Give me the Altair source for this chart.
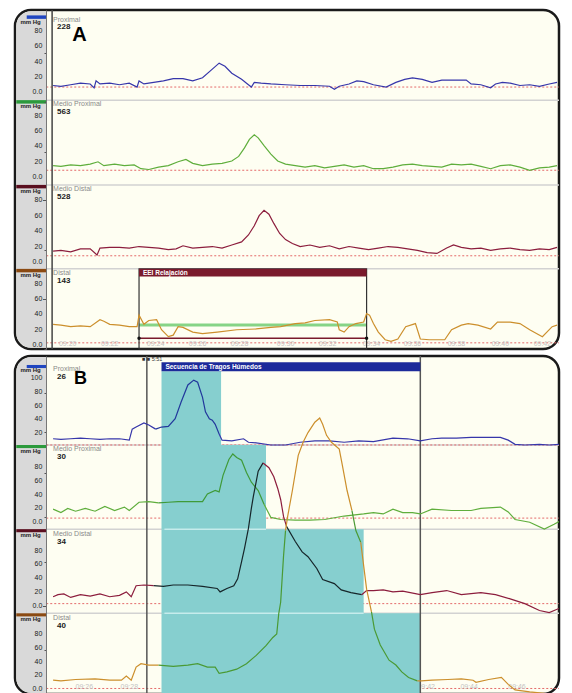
import altair as alt
import pandas as pd

# ---------------- data ----------------
TRACKS = ["Proximal", "Medio Proximal", "Medio Distal", "Distal"]
A_NUMBERS = ["228", "563", "528", "143"]
B_NUMBERS = ["26", "30", "34", "40"]
TICKS = [0, 20, 40, 60, 80]
B_TICKS_TOP = [20, 40, 60, 80, 100]

# Panel A (time index, mmHg)
A_PROX_T = [52, 60, 70, 80, 90, 94, 96, 100, 110, 120, 130, 138, 140, 145, 155, 165, 175, 185, 195, 205,
            213, 222, 228, 235, 245, 252, 255, 258, 265, 275, 290, 305, 320, 335, 340, 345, 355, 363, 370, 380,
            393, 403, 412, 420, 430, 440, 450, 460, 475, 480, 490, 500, 505, 512, 520, 530, 540, 550, 560, 568]
A_PROX_P = [9, 8, 10, 12, 11, 6, 15, 11, 12, 10, 12, 7, 15, 11, 13, 15, 18, 18, 15, 19,
            28, 38, 34, 25, 17, 10, 7, 13, 12, 11, 10, 9, 9, 8, 4, 8, 11, 15, 14, 10,
            7, 13, 17, 19, 17, 13, 16, 16, 16, 11, 10, 6, 11, 13, 12, 9, 10, 8, 11, 13]

A_MPROX_T = [52, 60, 70, 80, 90, 98, 104, 115, 125, 135, 142, 150, 160, 170, 180, 188, 195, 205, 215, 225,
             235, 242, 248, 253, 258, 262, 268, 275, 282, 290, 300, 310, 320, 330, 340, 350, 360, 370, 380, 390,
             400, 410, 420, 430, 440, 450, 460, 470, 480, 490, 500, 510, 520, 530, 540, 550, 560, 568]
A_MPROX_P = [15, 14, 16, 15, 17, 20, 15, 17, 15, 16, 11, 10, 13, 15, 20, 23, 18, 15, 17, 18,
             21, 27, 38, 49, 55, 51, 41, 30, 21, 17, 15, 13, 15, 12, 14, 16, 13, 15, 11, 11,
             13, 16, 17, 15, 14, 13, 17, 16, 17, 14, 11, 15, 16, 13, 9, 12, 13, 15]

A_MDIST_T = [52, 60, 70, 80, 90, 97, 100, 110, 120, 130, 140, 150, 160, 170, 178, 185, 195, 205, 215, 225,
             235, 245, 252, 258, 263, 268, 273, 278, 284, 290, 297, 305, 315, 325, 335, 345, 355, 365, 375, 385,
             395, 405, 415, 425, 435, 445, 455, 462, 470, 480, 490, 500, 510, 520, 530, 540, 550, 560, 568]
A_MDIST_P = [14, 15, 13, 17, 17, 9, 18, 19, 19, 18, 20, 19, 18, 16, 17, 21, 18, 19, 20, 18,
             22, 26, 35, 47, 60, 67, 62, 50, 37, 29, 24, 20, 22, 19, 21, 17, 20, 18, 16, 18,
             20, 19, 17, 15, 12, 11, 18, 22, 19, 17, 18, 15, 17, 18, 16, 15, 17, 16, 19]

A_DIST_T = [52, 60, 70, 80, 90, 100, 104, 110, 120, 130, 138, 140, 145, 150, 158, 163, 170, 175, 180, 185,
            195, 205, 220, 240, 260, 275, 285, 300, 310, 320, 335, 343, 345, 350, 355, 362, 370, 373, 376, 380,
            385, 392, 398, 405, 413, 423, 428, 437, 453, 460, 470, 477, 487, 500, 507, 520, 530, 540, 553, 563, 568]
A_DIST_P = [27, 26, 24, 25, 24, 33, 31, 27, 26, 24, 24, 39, 27, 32, 33, 20, 11, 13, 24, 23,
            17, 15, 17, 20, 21, 23, 24, 28, 29, 32, 33, 30, 20, 17, 24, 28, 30, 41, 39, 28,
            17, 7, 5, 8, 24, 28, 8, 7, 7, 20, 26, 28, 26, 21, 30, 30, 28, 20, 11, 24, 26]

# EEI relaxation window (panel A)
EEI_LABEL = "EEI Relajación"
EEI_START, EEI_END = 140, 373
EEI_BASAL = 26      # mmHg, green level
EEI_RESIDUAL = 9    # mmHg, dark red level

# Panel B (time index, mmHg)
B_PROX_T = [52, 60, 70, 80, 90, 100, 110, 120, 130, 133, 137, 145, 150, 157, 163, 170, 177, 183, 190, 196,
            200, 205, 208, 212, 215, 218, 222, 225, 235, 247, 252, 260, 275, 290, 305, 320, 335, 350, 365, 380,
            400, 415, 428, 440, 450, 465, 480, 495, 510, 518, 525, 535, 550, 560, 570]
B_PROX_P = [12, 11, 12, 13, 12, 11, 12, 12, 10, 26, 29, 35, 32, 26, 29, 30, 41, 65, 90, 97,
            94, 72, 51, 41, 39, 33, 19, 10, 9, 12, 7, 6, 3, 3, 7, 9, 9, 7, 9, 8,
            13, 12, 9, 12, 13, 13, 14, 14, 14, 10, 4, 3, 4, 3, 4]

B_MPROX_T = [52, 60, 67, 75, 85, 95, 105, 115, 125, 130, 140, 150, 160, 170, 180, 195, 205, 210, 218, 222,
             226, 232, 236, 240, 245, 250, 255, 262, 268, 275, 285, 300, 315, 330, 350, 370, 380, 390, 400, 410,
             420, 428, 440, 460, 480, 490, 510, 518, 525, 540, 555, 565, 570]
B_MPROX_P = [19, 14, 20, 16, 20, 16, 23, 17, 22, 17, 29, 30, 28, 29, 30, 30, 30, 41, 46, 44,
             68, 91, 99, 94, 90, 72, 58, 46, 26, 7, 4, 3, 3, 4, 9, 12, 14, 12, 19, 14,
             14, 12, 19, 17, 17, 20, 22, 15, 4, 0, -10, -3, 1]

B_MDIST_T = [52, 57, 63, 70, 80, 90, 100, 110, 120, 127, 132, 137, 145, 155, 165, 175, 190, 205, 220, 223,
             230, 237, 241, 245, 248, 252, 255, 257, 262, 267, 273, 278, 282, 285, 288, 291, 300, 307, 313, 322,
             328, 340, 347, 357, 368, 373, 380, 390, 400, 410, 428, 440, 455, 470, 490, 505, 520, 535, 550, 560, 570]
B_MDIST_P = [13, 16, 17, 12, 16, 14, 17, 13, 15, 20, 13, 29, 30, 29, 28, 30, 30, 28, 25, 20,
             25, 29, 39, 64, 83, 112, 141, 158, 195, 207, 200, 187, 170, 154, 129, 115, 93, 78, 71, 54,
             38, 32, 23, 19, 16, 22, 22, 23, 20, 21, 16, 19, 22, 16, 19, 16, 10, 3, -7, -10, -4]

B_DIST_T = [52, 60, 75, 95, 110, 122, 127, 132, 137, 142, 150, 160, 175, 190, 200, 210, 218, 222, 230, 240,
            250, 260, 270, 277, 281, 283, 285, 288, 290, 292, 297, 303, 308, 313, 320, 325, 328, 332, 337, 345,
            348, 353, 358, 362, 367, 373, 378, 381, 387, 396, 403, 409, 416, 425, 429, 440, 456, 470, 482, 485,
            498, 511, 518, 525, 540, 555, 564]
B_DIST_P = [13, 12, 14, 15, 13, 13, 19, 13, 32, 37, 35, 35, 33, 35, 37, 32, 32, 23, 25, 29,
            37, 49, 63, 75, 80, 109, 126, 194, 230, 249, 288, 339, 358, 372, 387, 393, 384, 368, 358, 348,
            326, 288, 259, 230, 213, 145, 112, 87, 64, 42, 35, 25, 17, 12, 12, 13, 14, 15, 13, 10,
            14, 17, 7, -1, -4, -6, -9]

SEQ_LABEL = "Secuencia de Tragos Húmedos"
SEQ_START, SEQ_END = 163, 428
SEQ_ROW_END = [224, 270, 370, 428]
B_CURSORS = [148, 428]
A_CURSORS = [51]

A_TIME_T = [67, 110, 157, 200, 243, 290, 333, 378, 420, 465, 510, 553]
A_TIME_L = ["09:20", "09:22", "09:24", "09:26", "09:28", "09:30", "09:32", "09:34", "09:36", "09:38", "09:40", "09:42"]
B_TIME_T = [84, 130, 434, 478, 527]
B_TIME_L = ["09:26", "09:28", "09:42", "09:44", "09:46"]

# ---------------- layout / style ----------------
FONT = "Liberation Sans"
W, HA, HB = 544, 339, 338
T0, T1 = 13, 570
A_MAX, B_MAX = 440, 490
ZA = [333, 223, 113, 5]
SEPA = [323, 213, 104]
TOPA = [433, 323, 213, 104]
DASHA = [7, 9, 8, 3]
ZB = [358, 249, 128, 7]
SEPB = [361, 239, 117]
TOPB = [477, 361, 239, 117]
DASHB = [3, 6, 3, 1]

LINE_OUT = ["#3636aa", "#5fae3c", "#8c1d3d", "#cc8f2c"]
LINE_IN = ["#22389c", "#3f9a38", "#16262a", "#4a9a34"]
BAR_COLORS = ["#1f45c0", "#2c9a3c", "#5a0f1f", "#8b4a12"]
AXIS_X = 45

xs = alt.Scale(domain=[T0, T1], nice=False, zero=False)


def yscale(m):
    return alt.Scale(domain=[0, m], nice=False, zero=False)


def curve_rows(ts, ps, z, k, prefix, inside=None):
    rows, seg, prev_in, prev = [], 0, None, None
    for i, (t, p) in enumerate(zip(ts, ps)):
        v = z + p
        inn = inside(t, v) if inside else False
        col = LINE_IN[k] if inn else LINE_OUT[k]
        if prev_in is not None and inn != prev_in:
            seg += 1
            rows.append(dict(t=prev[0], v=prev[1], seg=f"{prefix}{seg}", color=col, i=i - 0.5))
        rows.append(dict(t=t, v=v, seg=f"{prefix}{seg}", color=col, i=i))
        prev_in, prev = inn, (t, v)
    return rows


def inside_b(t, v):
    if t < SEQ_START or v > 468:
        return False
    row = 0 if v >= SEPB[0] else 1 if v >= SEPB[1] else 2 if v >= SEPB[2] else 3
    return t <= SEQ_ROW_END[row]


def common_layers(ys, ymax, z, seps, tops, dash, names, numbers, ticks_list, name_off, num_off):
    majors, labels = [], []
    for k in range(4):
        for tv in ticks_list[k]:
            majors.append(z[k] + tv)
            labels.append("0.0" if tv == 0 else str(tv))
    minors = [m for m in range(0, ymax + 1, 4) if all(abs(m - a) > 1 for a in majors)]
    all_vals = sorted(majors + minors)
    major_test = f"indexof({majors}, datum.value) >= 0"
    strip = alt.Chart(pd.DataFrame({"t1": [14.3], "t2": [AXIS_X], "v1": [1.6], "v2": [ymax - 1.6]})).mark_rect(
        fill="#d9d9d9", cornerRadiusTopLeft=15, cornerRadiusBottomLeft=15).encode(
        x=alt.X("t1:Q", scale=xs, axis=None), x2="t2",
        y=alt.Y("v1:Q", scale=ys, axis=alt.Axis(
            orient="left", offset=-round((AXIS_X - T0) * W / (T1 - T0)), values=all_vals, labels=False,
            tickSize={"condition": {"test": major_test, "value": 3.5}, "value": 2},
            tickColor="#555", domain=True, domainColor="#777", grid=False, title=None, zindex=3)),
        y2="v2")
    tick_lbl = alt.Chart(pd.DataFrame({"t": AXIS_X - 4, "v": majors, "s": labels})).mark_text(
        align="right", baseline="middle", fontSize=7, font=FONT, color="#222").encode(
        x=alt.X("t:Q", scale=xs), y=alt.Y("v:Q", scale=ys), text="s:N")
    bars = alt.Chart(pd.DataFrame({"t1": [25, 14.3, 14.3, 14.3], "t2": [AXIS_X] * 4,
                                   "v1": [t - 4.5 for t in tops], "v2": tops, "c": BAR_COLORS})).mark_rect().encode(
        x=alt.X("t1:Q", scale=xs), x2="t2",
        y=alt.Y("v1:Q", scale=ys), y2="v2", color=alt.Color("c:N", scale=None))
    mmhg = alt.Chart(pd.DataFrame({"t": [29] * 4, "v": [t - 8 for t in tops]})).mark_text(
        text="mm Hg", fontSize=6, fontWeight="bold", font=FONT, color="#222", baseline="middle").encode(
        x=alt.X("t:Q", scale=xs), y=alt.Y("v:Q", scale=ys))
    sep = alt.Chart(pd.DataFrame({"v": seps, "t1": AXIS_X, "t2": T1})).mark_rule(
        color="#d2d2d2", strokeWidth=1.5).encode(
        x=alt.X("t1:Q", scale=xs), x2="t2", y=alt.Y("v:Q", scale=ys))
    dashed = alt.Chart(pd.DataFrame({"v": [z[k] + dash[k] for k in range(4)], "t1": AXIS_X, "t2": T1})).mark_rule(
        color="#e46a6a", strokeWidth=1, strokeDash=[2, 2]).encode(
        x=alt.X("t1:Q", scale=xs), x2="t2", y=alt.Y("v:Q", scale=ys))
    name_txt = alt.Chart(pd.DataFrame({"t": [52] * 4, "v": [t - name_off for t in tops], "s": names})).mark_text(
        align="left", baseline="middle", fontSize=7, font=FONT, color="#8a8a8a").encode(
        x=alt.X("t:Q", scale=xs), y=alt.Y("v:Q", scale=ys), text="s:N")
    num_txt = alt.Chart(pd.DataFrame({"t": [56] * 4, "v": [t - num_off for t in tops], "s": numbers})).mark_text(
        align="left", baseline="middle", fontSize=8, font=FONT, fontWeight="bold", color="#222").encode(
        x=alt.X("t:Q", scale=xs), y=alt.Y("v:Q", scale=ys), text="s:N")
    return [strip, tick_lbl, bars, mmhg, sep, dashed], [name_txt, num_txt]


def line_layer(rows, ys):
    return alt.Chart(pd.DataFrame(rows)).mark_line(strokeWidth=1.2, clip=True).encode(
        x=alt.X("t:Q", scale=xs), y=alt.Y("v:Q", scale=ys),
        color=alt.Color("color:N", scale=None), detail="seg:N", order="i:Q")


def rule_v(ts, ys, ymax, color):
    return alt.Chart(pd.DataFrame({"t": ts, "v1": 0, "v2": ymax})).mark_rule(color=color, strokeWidth=1.5).encode(
        x=alt.X("t:Q", scale=xs), y=alt.Y("v1:Q", scale=ys), y2="v2")


def time_layer(ts, labels, v, ys):
    return alt.Chart(pd.DataFrame({"t": ts, "s": labels, "v": v})).mark_text(
        fontSize=7, font=FONT, color="#c4c4c4", baseline="middle").encode(
        x=alt.X("t:Q", scale=xs), y=alt.Y("v:Q", scale=ys), text="s:N")


# ---------------- Panel A ----------------
ysA = yscale(A_MAX)
baseA, textA = common_layers(ysA, A_MAX, ZA, SEPA, TOPA, DASHA, TRACKS, A_NUMBERS, [TICKS] * 4, 5.5, 15.5)

rowsA = []
for k, (ts, ps) in enumerate([(A_PROX_T, A_PROX_P), (A_MPROX_T, A_MPROX_P),
                              (A_MDIST_T, A_MDIST_P), (A_DIST_T, A_DIST_P)]):
    rowsA += curve_rows(ts, ps, ZA[k], k, f"A{k}_")

eei_box = alt.Chart(pd.DataFrame({"t1": [EEI_START], "t2": [EEI_END], "v1": [0], "v2": [SEPA[2]]})).mark_rect(
    fillOpacity=0, stroke="#333", strokeWidth=1.2).encode(
    x=alt.X("t1:Q", scale=xs), x2="t2", y=alt.Y("v1:Q", scale=ysA), y2="v2")
eei_head = alt.Chart(pd.DataFrame({"t1": [EEI_START], "t2": [EEI_END], "v1": [SEPA[2] - 10], "v2": [SEPA[2]]})).mark_rect(
    fill="#7a1a2c").encode(x=alt.X("t1:Q", scale=xs), x2="t2", y=alt.Y("v1:Q", scale=ysA), y2="v2")
eei_txt = alt.Chart(pd.DataFrame({"t": [EEI_START + 4], "v": [SEPA[2] - 5], "s": [EEI_LABEL]})).mark_text(
    align="left", baseline="middle", fontSize=6.5, fontWeight="bold", font=FONT, color="white").encode(
    x=alt.X("t:Q", scale=xs), y=alt.Y("v:Q", scale=ysA), text="s:N")
eei_green = alt.Chart(pd.DataFrame({"t1": [EEI_START], "t2": [EEI_END], "v": [ZA[3] + EEI_BASAL]})).mark_rule(
    color="#86d486", strokeWidth=3).encode(x=alt.X("t1:Q", scale=xs), x2="t2", y=alt.Y("v:Q", scale=ysA))
eei_red = alt.Chart(pd.DataFrame({"t1": [EEI_START], "t2": [EEI_END], "v": [ZA[3] + EEI_RESIDUAL]})).mark_rule(
    color="#7a1a2c", strokeWidth=1.5).encode(x=alt.X("t1:Q", scale=xs), x2="t2", y=alt.Y("v:Q", scale=ysA))
eei_pts = alt.Chart(pd.DataFrame({"t": [EEI_START, EEI_END], "v": [ZA[3] + EEI_RESIDUAL] * 2})).mark_point(
    filled=True, color="#111", size=12, opacity=1).encode(x=alt.X("t:Q", scale=xs), y=alt.Y("v:Q", scale=ysA))
letterA = alt.Chart(pd.DataFrame({"t": [79], "v": [408], "s": ["A"]})).mark_text(
    fontSize=20, fontWeight="bold", font=FONT, color="#000").encode(
    x=alt.X("t:Q", scale=xs), y=alt.Y("v:Q", scale=ysA), text="s:N")

chartA = alt.layer(
    *baseA, time_layer(A_TIME_T, A_TIME_L, 6, ysA),
    eei_green, eei_red, eei_box, eei_head, eei_txt, eei_pts,
    rule_v(A_CURSORS, ysA, A_MAX, "#444"),
    line_layer(rowsA, ysA), *textA, letterA
).properties(width=W, height=HA)

# ---------------- Panel B ----------------
ysB = yscale(B_MAX)
baseB, textB = common_layers(ysB, B_MAX, ZB, SEPB, TOPB, DASHB, TRACKS, B_NUMBERS,
                             [B_TICKS_TOP, TICKS, TICKS, TICKS], 6.5, 18)

rowsB = []
for k, (ts, ps) in enumerate([(B_PROX_T, B_PROX_P), (B_MPROX_T, B_MPROX_P),
                              (B_MDIST_T, B_MDIST_P), (B_DIST_T, B_DIST_P)]):
    rowsB += curve_rows(ts, ps, ZB[k], k, f"B{k}_", inside_b)

cyan = alt.Chart(pd.DataFrame({"t1": [SEQ_START] * 4, "t2": SEQ_ROW_END,
                               "v1": [SEPB[0], SEPB[1], SEPB[2], 0], "v2": [468, SEPB[0], SEPB[1], SEPB[2]]})).mark_rect(
    fill="#86cfcf").encode(x=alt.X("t1:Q", scale=xs), x2="t2", y=alt.Y("v1:Q", scale=ysB), y2="v2")
sepB_over = alt.Chart(pd.DataFrame({"v": SEPB[1:], "t1": SEQ_START + 3, "t2": [SEQ_ROW_END[1], SEQ_ROW_END[2]]})).mark_rule(
    color="#c6ecec", strokeWidth=1.5).encode(x=alt.X("t1:Q", scale=xs), x2="t2", y=alt.Y("v:Q", scale=ysB))
seq_head = alt.Chart(pd.DataFrame({"t1": [SEQ_START], "t2": [SEQ_END], "v1": [468], "v2": [481]})).mark_rect(
    fill="#1c2a9a").encode(x=alt.X("t1:Q", scale=xs), x2="t2", y=alt.Y("v1:Q", scale=ysB), y2="v2")
seq_txt = alt.Chart(pd.DataFrame({"t": [SEQ_START + 4], "v": [474.5], "s": [SEQ_LABEL]})).mark_text(
    align="left", baseline="middle", fontSize=6.5, fontWeight="bold", font=FONT, color="white").encode(
    x=alt.X("t:Q", scale=xs), y=alt.Y("v:Q", scale=ysB), text="s:N")
marker_txt = alt.Chart(pd.DataFrame({"t": [143], "v": [485], "s": ["■ ■ 5:51"]})).mark_text(
    align="left", baseline="middle", fontSize=5.5, font=FONT, color="#333").encode(
    x=alt.X("t:Q", scale=xs), y=alt.Y("v:Q", scale=ysB), text="s:N")
letterB = alt.Chart(pd.DataFrame({"t": [80], "v": [456], "s": ["B"]})).mark_text(
    fontSize=18, fontWeight="bold", font=FONT, color="#000").encode(
    x=alt.X("t:Q", scale=xs), y=alt.Y("v:Q", scale=ysB), text="s:N")

chartB = alt.layer(
    *baseB, time_layer(B_TIME_T, B_TIME_L, 10, ysB),
    cyan, sepB_over, rule_v(B_CURSORS, ysB, B_MAX, "#555"), seq_head, seq_txt, marker_txt,
    line_layer(rowsB, ysB), *textB, letterB
).properties(width=W, height=HB)

chart = alt.vconcat(chartA, chartB, spacing=7, bounds="flush").properties(
    padding={"left": 5, "top": 0, "right": 0, "bottom": 0}, background="white"
).configure_view(stroke="#1a1a1a", strokeWidth=2.5, cornerRadius=16, fill="#fefef2")

chart.save("out.html", embed_options={"renderer": "svg", "actions": False})
